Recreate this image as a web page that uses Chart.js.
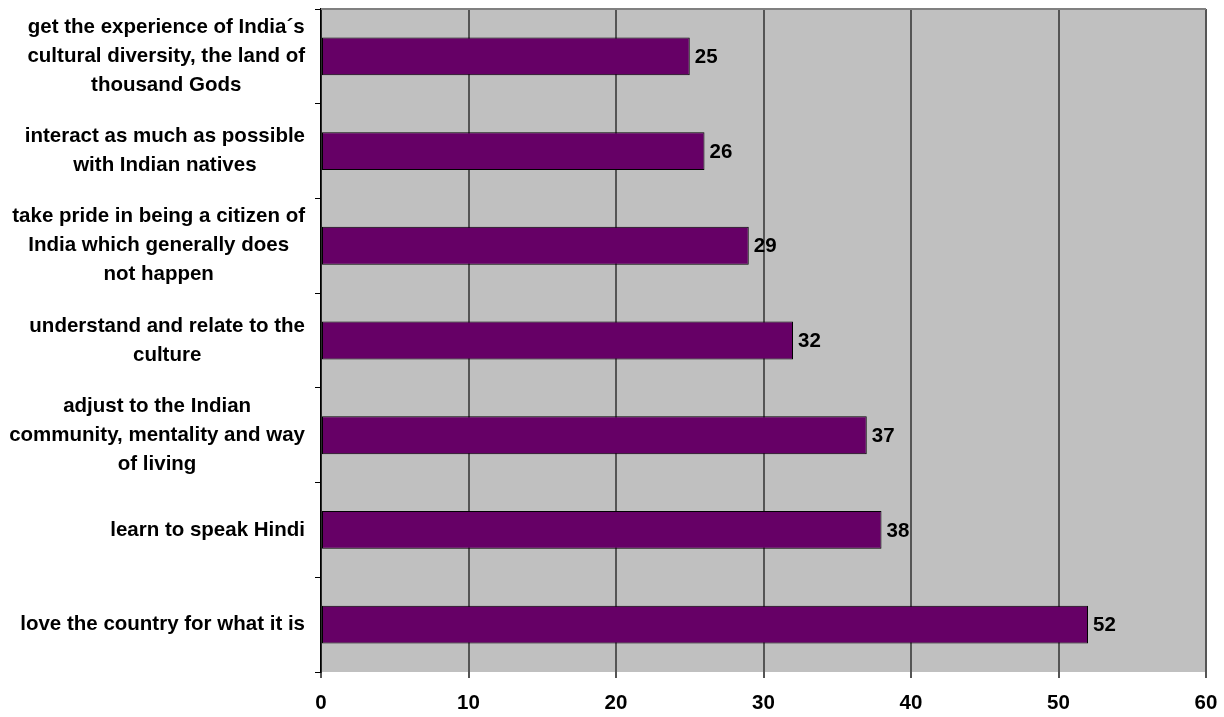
<!DOCTYPE html>
<html>
<head>
<meta charset="utf-8">
<title>Motivations chart</title>
<script src="https://cdn.jsdelivr.net/npm/chart.js@4"></script>
<style>
  html, body { margin: 0; padding: 0; background: #fff; }
  #wrap { width: 1224px; height: 717px; }
</style>
</head>
<body>
<div id="wrap"><canvas id="motivationChart" width="1224" height="717"></canvas></div>
<script>
// chart data
const categories = [
    ['get the experience of India\u00b4s', 'cultural diversity, the land of', 'thousand Gods'],
    ['interact as much as possible', 'with Indian natives'],
    ['take pride in being a citizen of', 'India which generally does', 'not happen'],
    ['understand and relate to the', 'culture'],
    ['adjust to the Indian', 'community, mentality and way', 'of living'],
    ['learn to speak Hindi'],
    ['love the country for what it is']
];
const values = [25, 26, 29, 32, 37, 38, 52];
const xTicks = [0, 10, 20, 30, 40, 50, 60];

const FONT = '"Liberation Sans", Arial, sans-serif';

// grey plot area + top border
const plotBackground = {
    id: 'plotBackground',
    beforeDraw(chart) {
        const { ctx, chartArea } = chart;
        ctx.save();
        ctx.fillStyle = '#c0c0c0';
        ctx.fillRect(chartArea.left, chartArea.top, chartArea.right - chartArea.left, chartArea.bottom - chartArea.top);
        ctx.restore();
    },
    afterDraw(chart) {
        const { ctx, chartArea } = chart;
        ctx.save();
        ctx.strokeStyle = '#808080';
        ctx.lineWidth = 2;
        ctx.beginPath();
        ctx.moveTo(chartArea.left, chartArea.top);
        ctx.lineTo(chartArea.right, chartArea.top);
        ctx.stroke();
        ctx.restore();
    }
};

// category labels: block right aligned, lines centred inside the block
const categoryLabels = {
    id: 'categoryLabels',
    afterDraw(chart) {
        const { ctx } = chart;
        const yScale = chart.scales.y;
        const rightEdge = chart.chartArea.left - 16;
        const lineH = 29;
        ctx.save();
        ctx.font = 'bold 20.5px ' + FONT;
        ctx.fillStyle = '#000';
        ctx.textAlign = 'center';
        ctx.textBaseline = 'middle';
        categories.forEach((lines, i) => {
            const y = yScale.getPixelForTick(i);
            const maxW = Math.max(...lines.map(l => ctx.measureText(l).width));
            const cx = rightEdge - maxW / 2;
            const startY = y - (lines.length - 1) * lineH / 2;
            lines.forEach((line, j) => {
                ctx.fillText(line, cx, startY + j * lineH);
            });
        });
        ctx.restore();
    }
};

// value labels at the end of each bar
const valueLabels = {
    id: 'valueLabels',
    afterDatasetsDraw(chart) {
        const { ctx } = chart;
        const meta = chart.getDatasetMeta(0);
        ctx.save();
        ctx.font = 'bold 20.5px ' + FONT;
        ctx.fillStyle = '#000';
        ctx.textAlign = 'left';
        ctx.textBaseline = 'middle';
        meta.data.forEach((bar, i) => {
            ctx.fillText(String(values[i]), bar.x + 5, bar.y + 1);
        });
        ctx.restore();
    }
};

const ctx = document.getElementById('motivationChart').getContext('2d');
new Chart(ctx, {
    type: 'bar',
    data: {
        labels: categories.map(c => c.join(' ')),
        datasets: [{
            data: values,
            backgroundColor: '#660066',
            borderColor: '#000000',
            borderWidth: 1,
            borderSkipped: false,
            barPercentage: 0.8,
            categoryPercentage: 0.5
        }]
    },
    options: {
        indexAxis: 'y',
        responsive: false,
        animation: false,
        layout: { padding: { top: 9, right: 18, left: 0, bottom: 0 } },
        plugins: {
            legend: { display: false },
            tooltip: { enabled: false }
        },
        scales: {
            x: {
                min: 0,
                max: 60,
                afterBuildTicks(scale) {
                    scale.ticks = xTicks.map(v => ({ value: v }));
                },
                afterFit(scale) {
                    scale.height = 45;
                    scale.paddingLeft = 0;
                    scale.paddingRight = 0;
                },
                grid: {
                    color: '#555555',
                    lineWidth: 2,
                    tickLength: 6,
                    drawTicks: true
                },
                border: { display: false },
                ticks: {
                    color: '#000',
                    padding: 13,
                    maxRotation: 0,
                    font: { family: FONT, size: 20.5, weight: 'bold' }
                }
            },
            y: {
                afterFit(scale) { scale.width = 321; },
                grid: {
                    offset: true,
                    drawOnChartArea: false,
                    drawTicks: true,
                    tickLength: 6,
                    color: '#000'
                },
                border: { display: true, color: '#000', width: 1.5 },
                ticks: { display: false }
            }
        }
    },
    plugins: [plotBackground, categoryLabels, valueLabels]
});
</script>
</body>
</html>
